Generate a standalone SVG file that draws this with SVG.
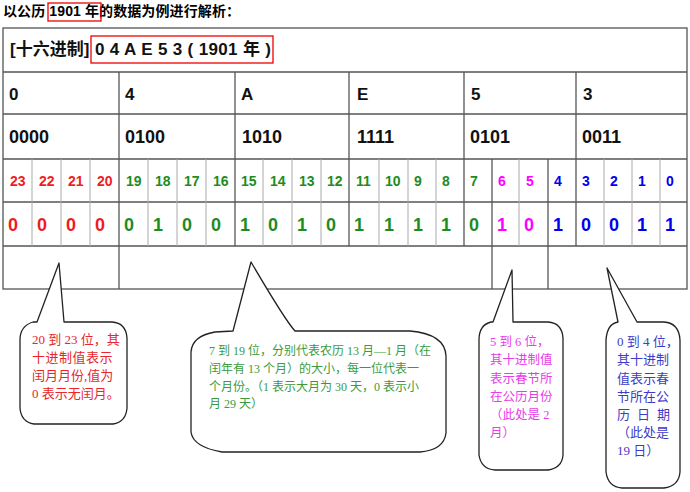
<svg xmlns="http://www.w3.org/2000/svg" width="690" height="492" viewBox="0 0 690 492">
<style>
.bg{fill:#fff}
.t{font-family:"Liberation Sans","Noto Sans CJK SC",sans-serif;font-weight:bold;fill:#000}
.hx{font-family:"Liberation Sans","Noto Sans CJK SC",sans-serif;font-weight:bold;font-size:17px;fill:#111}
.bn{font-family:"Liberation Sans",sans-serif;font-weight:bold;font-size:18px;fill:#111}
.ix{font-family:"Liberation Sans",sans-serif;font-weight:bold;font-size:14px}
.bv{font-family:"Liberation Sans",sans-serif;font-weight:bold;font-size:18px}
.r{fill:#ee1c24}.g{fill:#1e8c1e}.m{fill:#ff00ff}.b{fill:#0000ee}
.major{stroke:#555;stroke-width:1.3;fill:none}
.minor{stroke:#aaa;stroke-width:1;fill:none}
.redbox{stroke:#e00;stroke-width:1.3;fill:none}
.bubble{fill:#fff;stroke:#222;stroke-width:1.3;stroke-linejoin:round}
.ct{font-family:"Liberation Serif","Noto Sans CJK SC",serif;font-size:12px}
.cr{fill:#e8262c;font-size:13px}.cg{fill:#3c9a3c}.cm{fill:#e83ce8;font-size:12.5px}.cb{fill:#3c3cc8;font-size:13px}
</style>
<rect class="bg" x="0" y="0" width="690" height="492"/>

<g id="title">
<text class="t" x="3" y="16" font-size="14" textLength="237" lengthAdjust="spacing">以公历 1901 年的数据为例进行解析：</text>
<rect class="redbox" x="48" y="3" width="53" height="18"/>
</g>

<g id="table">
<rect class="major" x="3" y="28" width="684" height="261"/>
<g id="hlines" class="major">
<line x1="3" y1="72" x2="687" y2="72"/>
<line x1="3" y1="114" x2="687" y2="114"/>
<line x1="3" y1="159" x2="687" y2="159"/>
<line x1="3" y1="202" x2="687" y2="202"/>
<line x1="3" y1="246" x2="687" y2="246"/>
</g>
<g id="minorlines" class="minor">
<line x1="32" y1="159" x2="32" y2="246"/>
<line x1="61" y1="159" x2="61" y2="246"/>
<line x1="90" y1="159" x2="90" y2="246"/>
<line x1="148" y1="159" x2="148" y2="246"/>
<line x1="177" y1="159" x2="177" y2="246"/>
<line x1="206" y1="159" x2="206" y2="246"/>
<line x1="263" y1="159" x2="263" y2="246"/>
<line x1="292" y1="159" x2="292" y2="246"/>
<line x1="321" y1="159" x2="321" y2="246"/>
<line x1="379" y1="159" x2="379" y2="246"/>
<line x1="408" y1="159" x2="408" y2="246"/>
<line x1="436" y1="159" x2="436" y2="246"/>
<line x1="519" y1="159" x2="519" y2="246"/>
<line x1="604" y1="159" x2="604" y2="246"/>
<line x1="632" y1="159" x2="632" y2="246"/>
<line x1="660" y1="159" x2="660" y2="246"/>
</g>
<g id="majorlines" class="major">
<line x1="119" y1="72" x2="119" y2="289"/>
<line x1="235" y1="72" x2="235" y2="246"/>
<line x1="349" y1="72" x2="349" y2="246"/>
<line x1="464" y1="72" x2="464" y2="246"/>
<line x1="576" y1="72" x2="576" y2="246"/>
<line x1="492" y1="159" x2="492" y2="289"/>
<line x1="548" y1="159" x2="548" y2="289"/>
</g>

<g id="header">
<text class="hx" x="10" y="55">[十六进制]</text>
<text class="hx" x="95" y="55" textLength="176" lengthAdjust="spacing">0 4 A E 5 3 ( 1901 年 )</text>
<rect class="redbox" x="91" y="36" width="182" height="27"/>
</g>

<g id="hexrow" class="hx">
<text x="9" y="100">0</text>
<text x="125" y="100">4</text>
<text x="241" y="100">A</text>
<text x="357" y="100">E</text>
<text x="471" y="100">5</text>
<text x="583" y="100">3</text>
</g>

<g id="binrow" class="bn">
<text x="9" y="143">0000</text>
<text x="125" y="143">0100</text>
<text x="242" y="143">1010</text>
<text x="357" y="143">1111</text>
<text x="470" y="143">0101</text>
<text x="582" y="143">0011</text>
</g>

<g id="indexrow" class="ix">
<text class="r" x="10" y="186">23</text>
<text class="r" x="39" y="186">22</text>
<text class="r" x="68" y="186">21</text>
<text class="r" x="97" y="186">20</text>
<text class="g" x="126" y="186">19</text>
<text class="g" x="155" y="186">18</text>
<text class="g" x="184" y="186">17</text>
<text class="g" x="213" y="186">16</text>
<text class="g" x="241" y="186">15</text>
<text class="g" x="270" y="186">14</text>
<text class="g" x="299" y="186">13</text>
<text class="g" x="327" y="186">12</text>
<text class="g" x="356" y="186">11</text>
<text class="g" x="385" y="186">10</text>
<text class="g" x="414" y="186">9</text>
<text class="g" x="442" y="186">8</text>
<text class="g" x="470" y="186">7</text>
<text class="m" x="498" y="186">6</text>
<text class="m" x="526" y="186">5</text>
<text class="b" x="554" y="186">4</text>
<text class="b" x="582" y="186">3</text>
<text class="b" x="610" y="186">2</text>
<text class="b" x="638" y="186">1</text>
<text class="b" x="666" y="186">0</text>
</g>

<g id="bitrow" class="bv">
<text class="r" x="8" y="231">0</text>
<text class="r" x="37" y="231">0</text>
<text class="r" x="66" y="231">0</text>
<text class="r" x="95" y="231">0</text>
<text class="g" x="124" y="231">0</text>
<text class="g" x="153" y="231">1</text>
<text class="g" x="182" y="231">0</text>
<text class="g" x="211" y="231">0</text>
<text class="g" x="240" y="231">1</text>
<text class="g" x="268" y="231">0</text>
<text class="g" x="297" y="231">1</text>
<text class="g" x="326" y="231">0</text>
<text class="g" x="354" y="231">1</text>
<text class="g" x="384" y="231">1</text>
<text class="g" x="413" y="231">1</text>
<text class="g" x="441" y="231">1</text>
<text class="g" x="469" y="231">0</text>
<text class="m" x="497" y="231">1</text>
<text class="m" x="524" y="231">0</text>
<text class="b" x="553" y="231">1</text>
<text class="b" x="581" y="231">0</text>
<text class="b" x="609" y="231">0</text>
<text class="b" x="637" y="231">1</text>
<text class="b" x="665" y="231">1</text>
</g>
</g>

<g id="callout-red">
<path class="bubble" d="M64 322 L59 263 L37 322 L33 322 Q20 326 20 340 L20 408 Q21 422 34 424 L113 424 Q126 422 127 408 L127 338 Q126 323 112 322 Z"/>
<text class="ct cr">
<tspan x="32" y="344">20 到 23 位，其</tspan>
<tspan x="32" y="362" letter-spacing="0.5">十进制值表示</tspan>
<tspan x="32" y="380">闰月月份,值为</tspan>
<tspan x="32" y="398">0  表示无闰月。</tspan>
</text>
</g>

<g id="callout-green">
<path class="bubble" d="M295 331 Q285 320 251 262 L233 331 L215 332 Q192 336 191 352 L191 432 Q193 447 222 452 L420 452 Q444 450 446 433 L446 356 Q445 334 410 331 Z"/>
<text class="ct cg">
<tspan x="209" y="355">7 到 19 位，分别代表农历 13 月—1 月（在</tspan>
<tspan x="209" y="373">闰年有 13 个月）的大小，每一位代表一</tspan>
<tspan x="209" y="391">个月份。（1 表示大月为 30 天，0 表示小</tspan>
<tspan x="209" y="408">月 29 天）</tspan>
</text>
</g>

<g id="callout-magenta">
<path class="bubble" d="M513 322 L512 270 L493 322 L491 322 Q479 325 479 340 L479 455 Q481 469 495 470 L548 470 Q562 468 563 455 L563 338 Q562 323 548 322 Z"/>
<text class="ct cm">
<tspan x="490" y="346">5 到 6 位，</tspan>
<tspan x="490" y="364">其十进制值</tspan>
<tspan x="490" y="383">表示春节所</tspan>
<tspan x="490" y="401">在公历月份</tspan>
<tspan x="490" y="419">（此处是 2</tspan>
<tspan x="490" y="437">月）</tspan>
</text>
</g>

<g id="callout-blue">
<path class="bubble" d="M637 322 L607 268 L618 322 Q607 324 606 340 L606 472 Q608 487 622 488 L664 488 Q679 486 680 472 L680 340 Q679 323 664 322 Z"/>
<text class="ct cb">
<tspan x="617" y="346">0 到 4 位，</tspan>
<tspan x="617" y="364">其十进制</tspan>
<tspan x="617" y="383">值表示春</tspan>
<tspan x="617" y="401">节所在公</tspan>
<tspan x="617" y="419" letter-spacing="7">历日期</tspan>
<tspan x="617" y="437">（此处是</tspan>
<tspan x="617" y="455">19 日）</tspan>
</text>
</g>
</svg>
